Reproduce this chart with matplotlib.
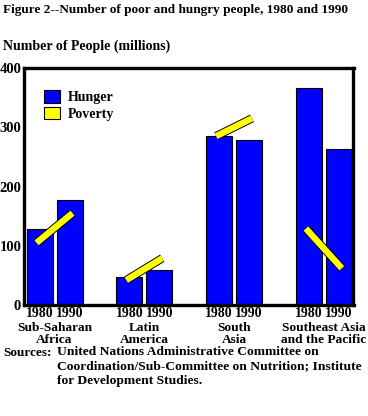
import matplotlib.pyplot as plt
import matplotlib.patheffects as pe
from matplotlib.patches import Patch
import numpy as np

regions = ["Sub-Saharan\nAfrica", "Latin\nAmerica", "South\nAsia", "Southeast Asia\nand the Pacific"]
years = ["1980", "1990"]
hunger_1980 = [129, 48, 286, 366]
hunger_1990 = [177, 59, 278, 263]
poverty_1980 = [105, 42, 285, 129]
poverty_1990 = [155, 79, 315, 62]
yticks = [0, 100, 200, 300, 400]

plt.rcParams['font.family'] = ['Liberation Serif', 'DejaVu Serif']
plt.rcParams['font.weight'] = 'bold'

fig = plt.figure(figsize=(3.68, 4.16), dpi=100)
ax = fig.add_axes([24 / 368, 1 - 305 / 416, 329.5 / 368, 237 / 416])

x = np.arange(len(regions))
off = 0.167
w = 0.29
blue = '#0000ff'
yellow = '#ffff00'

ax.bar(x - off, hunger_1980, w, color=blue, edgecolor='black', linewidth=0.8, zorder=2)
ax.bar(x + off, hunger_1990, w, color=blue, edgecolor='black', linewidth=0.8, zorder=2)

# poverty drawn as thick yellow slanted bars from 1980 to 1990
for i in range(len(regions)):
    ax.plot([x[i] - 0.2, x[i] + 0.2], [poverty_1980[i], poverty_1990[i]],
            color=yellow, lw=4.6, solid_capstyle='butt', zorder=3,
            path_effects=[pe.Stroke(linewidth=6.0, foreground='black', capstyle='butt'), pe.Normal()])

ax.set_xlim(-0.34, 3.33)
ax.set_ylim(0, 400)
ax.set_yticks(yticks)
ax.set_yticklabels([str(t) for t in yticks], fontsize=10.5, fontweight='bold')
ax.tick_params(axis='y', length=0, pad=2)
ax.set_xticks([])
for s in ax.spines.values():
    s.set_linewidth(2.4)

for i in range(len(regions)):
    for xx, yr in zip([x[i] - off, x[i] + off], years):
        ax.text(xx, -4, yr, ha='center', va='top', fontsize=10, fontweight='bold')
    ax.text(x[i], -28, regions[i], ha='center', va='top', fontsize=9.6,
            fontweight='bold', linespacing=1.1)

handles = [Patch(facecolor=blue, edgecolor='black', linewidth=0.8),
           Patch(facecolor=yellow, edgecolor='black', linewidth=0.8)]
leg = ax.legend(handles, ['Hunger', 'Poverty'], loc='upper left',
                bbox_to_anchor=(0.045, 0.93), frameon=False, fontsize=10,
                handlelength=1.1, handleheight=1.0, handletextpad=0.6,
                labelspacing=0.2, borderaxespad=0)

fig.text(3 / 368, 1 - 10 / 416, "Figure 2--Number of poor and hungry people, 1980 and 1990",
         ha='left', va='center', fontsize=9.5, fontweight='bold')
fig.text(3 / 368, 1 - 46 / 416, "Number of People (millions)",
         ha='left', va='center', fontsize=10, fontweight='bold')
fig.text(3 / 368, 1 - 353 / 416, "Sources:", ha='left', va='center',
         fontsize=9.5, fontweight='bold')
fig.text(57 / 368, 1 - 346 / 416,
         "United Nations Administrative Committee on\n"
         "Coordination/Sub-Committee on Nutrition; Institute\n"
         "for Development Studies.",
         ha='left', va='top', fontsize=9.7, fontweight='bold', linespacing=1.28)

fig.savefig("out.png", dpi=100)
